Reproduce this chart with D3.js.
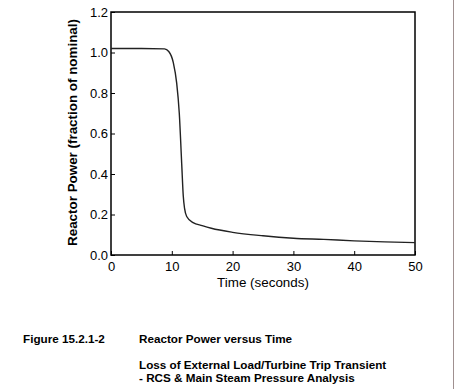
<!DOCTYPE html>
<html>
<head>
<meta charset="utf-8">
<script src="https://cdn.jsdelivr.net/npm/d3@7"></script>
<style>
  body { margin: 0; background: #fff; }
  svg { display: block; font-family: "Liberation Sans", Arial, sans-serif; }
</style>
</head>
<body>
<svg id="chart" width="456" height="389"></svg>
<script>
// reactor power vs time
const time = [0, 5, 8.8, 9.5, 10.25, 10.8, 11.23, 11.63, 11.89, 12.1, 12.45, 13.5, 15, 16.5, 20, 25, 30, 35, 40, 45, 50];
const power = [1.02, 1.02, 1.018, 1.005, 0.95, 0.85, 0.70, 0.45, 0.29, 0.23, 0.19, 0.16, 0.145, 0.132, 0.112, 0.095, 0.083, 0.077, 0.07, 0.065, 0.061];
const xTicks = [0, 10, 20, 30, 40, 50];
const yTicks = [0, 0.2, 0.4, 0.6, 0.8, 1.0, 1.2];

const svg = d3.select("#chart");
const m = { left: 111, right: 415, top: 12, bottom: 255 };

const x = d3.scaleLinear().domain([0, 50]).range([m.left, m.right]);
const y = d3.scaleLinear().domain([0, 1.2]).range([m.bottom, m.top]);

// x axis, ticks point inward
const xAxis = d3.axisTop(x).tickValues(xTicks).tickSize(4).tickFormat(d3.format("d"));
const gx = svg.append("g").attr("transform", "translate(0," + m.bottom + ")").call(xAxis);
gx.select(".domain").remove();
gx.selectAll("line").attr("stroke", "#000").attr("stroke-width", 1);
gx.selectAll("text")
    .attr("y", 16)
    .attr("dy", 0)
    .attr("font-size", 13)
    .attr("fill", "#000");

const yAxis = d3.axisRight(y).tickValues(yTicks).tickSize(4).tickFormat(d3.format(".1f"));
const gy = svg.append("g").attr("transform", "translate(" + m.left + ",0)").call(yAxis);
gy.select(".domain").remove();
gy.selectAll("line").attr("stroke", "#000").attr("stroke-width", 1);
gy.selectAll("text")
    .attr("x", -3)
    .attr("text-anchor", "end")
    .attr("font-size", 13)
    .attr("fill", "#000");

// frame
svg.append("rect")
    .attr("x", m.left)
    .attr("y", m.top)
    .attr("width", m.right - m.left)
    .attr("height", m.bottom - m.top)
    .attr("fill", "none")
    .attr("stroke", "#000")
    .attr("stroke-width", 1.5);

// curve
const line = d3.line()
    .x((d, i) => x(time[i]))
    .y(d => y(d))
    .curve(d3.curveMonotoneX);
svg.append("path")
    .datum(power)
    .attr("d", line)
    .attr("fill", "none")
    .attr("stroke", "#222")
    .attr("stroke-width", 1.4);

// axis labels
svg.append("text")
    .attr("x", (m.left + m.right) / 2)
    .attr("y", 287)
    .attr("text-anchor", "middle")
    .attr("font-size", 13.4)
    .text("Time (seconds)");

svg.append("text")
    .attr("transform", "translate(77," + ((m.top + m.bottom) / 2 - 1) + ") rotate(-90)")
    .attr("text-anchor", "middle")
    .attr("font-size", 13.4)
    .attr("font-weight", "bold")
    .text("Reactor Power (fraction of nominal)");

// caption
const cap = svg.append("g").attr("font-size", 11.7).attr("font-weight", "bold");
cap.append("text").attr("x", 23).attr("y", 343).text("Figure 15.2.1-2");
cap.append("text").attr("x", 139).attr("y", 343).text("Reactor Power versus Time");
cap.append("text").attr("x", 139).attr("y", 369).text("Loss of External Load/Turbine Trip Transient");
cap.append("text").attr("x", 139).attr("y", 382).text("- RCS & Main Steam Pressure Analysis");

// page edge line on the right
svg.append("line")
    .attr("x1", 453.5).attr("x2", 453.5)
    .attr("y1", 0).attr("y2", 389)
    .attr("stroke", "#a09090")
    .attr("stroke-width", 1);
</script>
</body>
</html>
